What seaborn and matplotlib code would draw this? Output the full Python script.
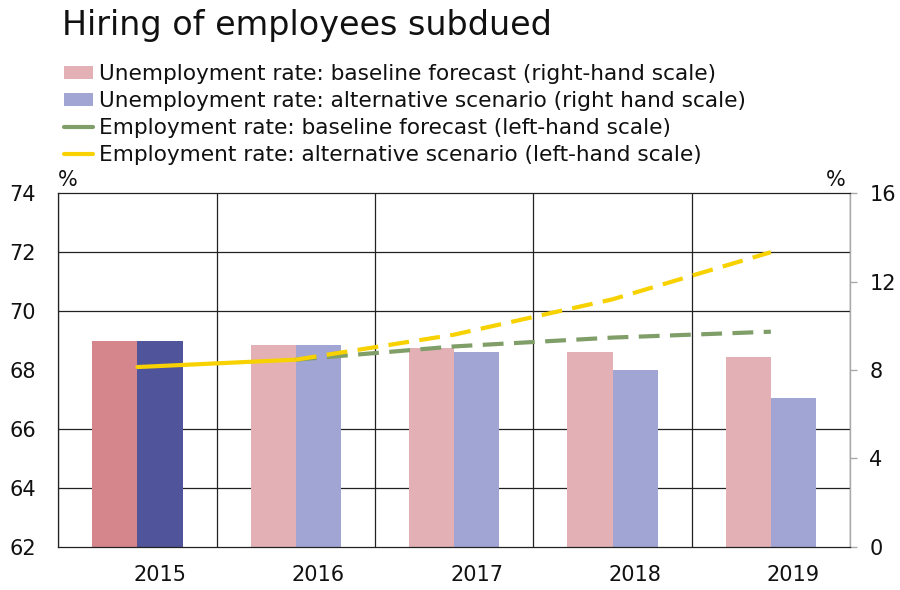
import numpy as np
import pandas as pd
import seaborn as sns
import matplotlib.pyplot as plt
from matplotlib.patches import Patch
from matplotlib.lines import Line2D

# data
years = ['2015', '2016', '2017', '2018', '2019']
unemp_base = [9.3, 9.15, 9.0, 8.8, 8.6]      # right-hand scale
unemp_alt = [9.3, 9.15, 8.8, 8.0, 6.75]      # right-hand scale
emp_actual = [68.1, 68.35, np.nan, np.nan, np.nan]   # left-hand scale
emp_base = [np.nan, 68.35, 68.8, 69.1, 69.3]
emp_alt = [np.nan, 68.35, 69.2, 70.4, 72.0]

labels = ['Unemployment rate: baseline forecast (right-hand scale)',
          'Unemployment rate: alternative scenario (right hand scale)',
          'Employment rate: baseline forecast (left-hand scale)',
          'Employment rate: alternative scenario (left-hand scale)']

c_base, c_alt = '#e3b1b5', '#a1a5d3'
c_base_act, c_alt_act = '#d4868c', '#50549a'
c_green, c_yellow = '#7f9e68', '#f7d200'
txt = '#111111'

sns.set_style('white')
plt.rcParams['font.family'] = ['DejaVu Sans']
plt.rcParams['text.color'] = txt
plt.rcParams['xtick.color'] = txt
plt.rcParams['ytick.color'] = txt

df = pd.DataFrame({
    'year': years * 2,
    'value': unemp_base + unemp_alt,
    'scenario': ['base'] * len(years) + ['alt'] * len(years),
})

fig = plt.figure(figsize=(9, 5.9), dpi=100)
ax = fig.add_axes([0.0648, 0.0734, 0.8797, 0.599])

# bars on the host axis (right-hand scale)
sns.barplot(data=df, x='year', y='value', hue='scenario', palette=[c_base, c_alt],
            width=0.57, dodge=True, saturation=1, legend=False, ax=ax, zorder=2)
# 2015 is actual data -> darker colours
bars = [p for p in ax.patches]
n = len(years)
bars[0].set_facecolor(c_base_act)
bars[n].set_facecolor(c_alt_act)
for b in bars:
    b.set_edgecolor('none')

# lines on twin axis (left-hand scale)
ax2 = ax.twinx()
xs = np.arange(n)
sns.lineplot(x=xs, y=emp_actual, color=c_yellow, lw=3, ax=ax2)
sns.lineplot(x=xs, y=emp_base, color=c_green, lw=3, ax=ax2,
             linestyle=(0, (5, 2.5)))
sns.lineplot(x=xs, y=emp_alt, color=c_yellow, lw=3, ax=ax2,
             linestyle=(0, (5, 2.5)))
ax2.set_ylim(62, 74)
ax2.set_xlim(-0.5, n - 0.5)
ax2.yaxis.tick_left()
ax2.set_yticks(np.arange(62, 75, 2))
ax2.tick_params(axis='y', length=0, pad=16, labelsize=15)
for s in ax2.spines.values():
    s.set_visible(False)

ax.set_ylim(0, 16)
ax.set_xlim(-0.5, n - 0.5)
ax.yaxis.tick_right()
ax.set_yticks([0, 4, 8, 12, 16])
ax.set_xticks(np.arange(n) + 0.1425, labels=years)
ax.set_xlabel('')
ax.set_ylabel('')
# grid follows left-hand scale (62..74 step 2) and category borders
ax.set_yticks(np.linspace(0, 16, 7), minor=True)
ax.set_xticks(np.arange(-0.5, n), minor=True)
ax.grid(False)
ax.grid(which='minor', color='#222222', lw=0.9, zorder=0)
ax.set_axisbelow(True)
ax.tick_params(axis='x', which='both', length=0, pad=13, labelsize=15)
ax.tick_params(axis='y', which='major', length=5, width=1, color='#aaaaaa',
               labelcolor=txt, pad=9, labelsize=15, right=True, left=False,
               labelright=True, labelleft=False)
ax.tick_params(axis='y', which='minor', length=0)
for s in ['left', 'top', 'bottom']:
    ax.spines[s].set_color('#222222')
    ax.spines[s].set_linewidth(0.9)
ax.spines['right'].set_color('#aaaaaa')
ax.spines['right'].set_linewidth(1)

ax.text(0.0, 1.008, '%', transform=ax.transAxes, ha='left', va='bottom', fontsize=15)
ax.text(0.995, 1.008, '%', transform=ax.transAxes, ha='right', va='bottom', fontsize=15)

fig.text(62 / 900, 1 - 9 / 590, 'Hiring of employees subdued', ha='left', va='top',
         fontsize=24)

handles = [Patch(facecolor=c_base, edgecolor='none'),
           Patch(facecolor=c_alt, edgecolor='none'),
           Line2D([], [], color=c_green, lw=3),
           Line2D([], [], color=c_yellow, lw=3)]
fig.legend(handles, labels, loc='upper left', bbox_to_anchor=(64 / 900, 1 - 64 / 590),
           frameon=False, fontsize=15.6, handlelength=1.35, handleheight=0.55,
           handletextpad=0.28, labelspacing=0.33, borderpad=0, borderaxespad=0)

fig.savefig('out.png', dpi=100)
